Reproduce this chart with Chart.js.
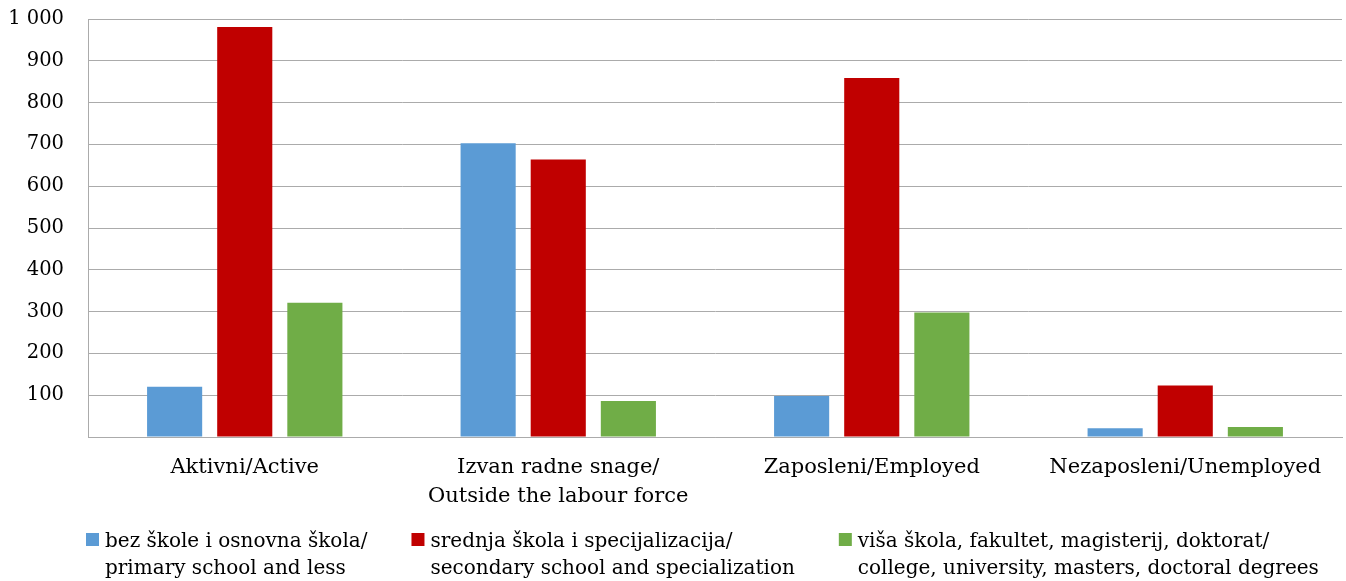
<!DOCTYPE html>
<html>
<head>
<meta charset="utf-8">
<script src="https://cdn.jsdelivr.net/npm/chart.js@4.4.0/dist/chart.umd.min.js"></script>
<style>
  html, body { margin: 0; padding: 0; background: #fff; }
  #wrap { width: 1346px; height: 581px; position: relative; }
</style>
</head>
<body>
<div id="wrap"><canvas id="chart"></canvas></div>
<script>
// categories (multi-line labels as arrays)
const categories = [
  'Aktivni/Active',
  ['Izvan radne snage/', 'Outside the labour force'],
  'Zaposleni/Employed',
  'Nezaposleni/Unemployed'
];

// series
const seriesLabels = [
  ['bez škole i osnovna škola/', 'primary school and less'],
  ['srednja škola i specijalizacija/', 'secondary school and specialization'],
  ['viša škola, fakultet, magisterij, doktorat/', 'college, university, masters, doctoral degrees']
];
const primaryValues = [120, 703, 98, 21];
const secondaryValues = [981, 664, 859, 123];
const tertiaryValues = [321, 86, 298, 24];
const seriesColors = ['#5b9bd5', '#c00000', '#70ad47'];

// y axis
const yMin = 0;
const yMax = 1000;
const yStep = 100;

const FONT_FAMILY = '"DejaVu Serif", serif';
const FONT_SIZE = 20;
const GRID = '#ababab';

function formatThousands(v) {
  if (v === 0) return '';
  return String(v).replace(/\B(?=(\d{3})+(?!\d))/g, ' ');
}

// legend with two-line entries, drawn under the axis
const twoLineLegend = {
  id: 'twoLineLegend',
  afterDraw(chart) {
    const ctx = chart.ctx;
    ctx.save();
    ctx.font = FONT_SIZE + 'px ' + FONT_FAMILY;
    ctx.textBaseline = 'alphabetic';
    ctx.textAlign = 'left';
    const box = 13, gap = 6, itemGap = 44, lineH = 27;
    let x = 86;
    const base = 547;
    chart.data.datasets.forEach((ds, i) => {
      const lines = seriesLabels[i];
      const tw = Math.max(...lines.map(l => ctx.measureText(l).width));
      ctx.fillStyle = ds.backgroundColor;
      ctx.fillRect(x, base - 14, box, box);
      ctx.fillStyle = '#000';
      lines.forEach((l, j) => ctx.fillText(l, x + box + gap, base + j * lineH));
      x += box + gap + tw + itemGap;
    });
    ctx.restore();
  }
};

new Chart(document.getElementById('chart'), {
  type: 'bar',
  data: {
    labels: categories,
    datasets: [primaryValues, secondaryValues, tertiaryValues].map((vals, i) => ({
      label: seriesLabels[i].join(' '),
      data: vals,
      backgroundColor: seriesColors[i],
      borderWidth: 0,
      barPercentage: 0.786,
      categoryPercentage: 0.671
    }))
  },
  options: {
    responsive: true,
    maintainAspectRatio: false,
    animation: false,
    layout: { padding: { top: 19, right: 4, bottom: 70, left: 0 } },
    plugins: {
      legend: { display: false },
      tooltip: { enabled: false }
    },
    scales: {
      x: {
        grid: { display: false, drawTicks: false },
        border: { display: true, color: GRID, width: 1 },
        ticks: {
          color: '#000',
          padding: 16,
          maxRotation: 0,
          autoSkip: false,
          font: { family: FONT_FAMILY, size: 21, lineHeight: 1.38 }
        },
        afterFit(scale) { scale.height = 74; scale.paddingLeft = 0; scale.paddingRight = 0; }
      },
      y: {
        min: yMin,
        max: yMax,
        grid: { color: GRID, lineWidth: 1, drawTicks: false },
        border: { display: true, color: GRID, width: 1 },
        ticks: {
          stepSize: yStep,
          color: '#000',
          padding: 24,
          font: { family: FONT_FAMILY, size: 19.5 },
          callback: v => formatThousands(v)
        },
        afterFit(scale) { scale.width = 88; scale.paddingTop = 0; scale.paddingBottom = 0; }
      }
    }
  },
  plugins: [twoLineLegend]
});
</script>
</body>
</html>
